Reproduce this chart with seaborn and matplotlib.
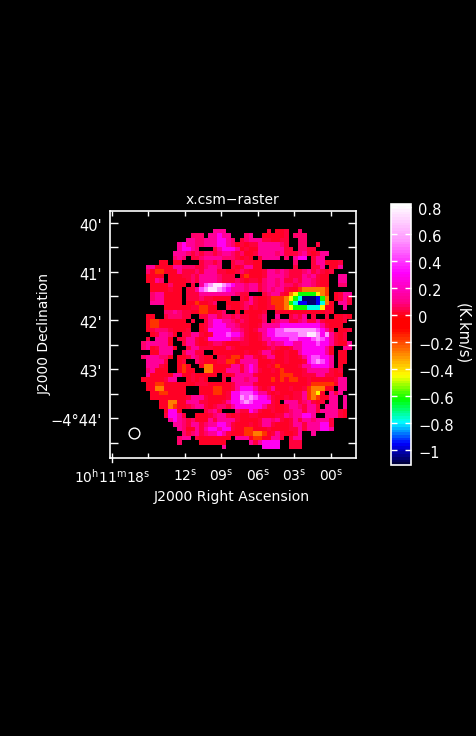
import numpy as np
import pandas as pd
import matplotlib
matplotlib.use('Agg')
import matplotlib.pyplot as plt
from matplotlib.colors import LinearSegmentedColormap
from matplotlib.patches import Circle
from matplotlib.transforms import ScaledTranslation
import seaborn as sns

# moment map values, one letter per cell, '.' is blank (left half / right half of the map)
rows_left = [
    "................qqq.....",
    "...........ppp.qqmqq...p",
    "..........qqppqqqmmqp.cp",
    "........qmqqppqqqmmqprcr",
    "........qmmqp...cqmmmqrc",
    ".......qqqpcpcppcpqqpcpr",
    ".......pqp.ccpqqqqpppcrc",
    "....rr.rr....cppcp..cppc",
    ".qqrrrrqqpppccpqqp..crcq",
    ".preerrrqcccpcqqqccrrcpc",
    ".rrrr.rrrccpcqqqqpccc.re",
    ".rrqp.rrrrcpcqqqqpcccpcr",
    "..rrrrprrr.c.qnlwwlnmqqp",
    "..rrrrcrr.ccqnlwwlnmqqqp",
    "..pqqrrrr.cccqqqqqqqqpcc",
    "..pqqrrrr.cccpccrrrr..cr",
    "..qqqrrrr.rrerrcp..rrrcp",
    ".....rrrrrrcceerr..crrcp",
    ".....ppqpccrreerrcp..r.r",
    ".rr..cpppcc..ccqqcppcpcc",
    ".reerrrrrr.c..cqmmqqpcpc",
    ".reerrrrrrr..rcqmmmqqpcc",
    ".rcpppcrrrc..rcmmmmmqqpc",
    "..rcqqpr.ccqqcrcmmmnmmqc",
    ".c.qqqr.ccqqcrcmmmmmqqpc",
    "pqqqqqr..cqqcrrcppcrrrcc",
    "pqrcqqqr..cqqcccrrrpcrrr",
    "..rrqqq..cqqcc..rrrrrrrc",
    "pqqqppr.rrcqpcrr.ccreerq",
    ".qqqqc..rc..pcrrrcceerqq",
    ".qqqcr..rer..roorrrrqqcq",
    ".pqrrr..rerr..oorrrqqqcq",
    ".qrrrrrqqrrcrrrrr.crcqqq",
    "rrrrrcqq..rcrcr...c.qqqp",
    ".rreerrrrrrrcccrrrrrcqqq",
    ".rroorrrrr...rrreerrcqmm",
    "..rreerrrr...rrreercmmnn",
    "..rrrrrrrrcqqqcrrrrcmmln",
    "....rroorrqqqccrrrcqmmnl",
    "....rroerrcpqqcrcppcqmmm",
    ".....rmmr.....cpqc...pcc",
    ".....cmmqc..rrrcpqqcrcrr",
    "......qmqpcprrrqcqqqqcrr",
    ".......qqpcqqcpqqmmqcrrr",
    "........qprrqcqmmqmmcrre",
    ".........pcpqcpqqmqcrrre",
    "........pqq.crrrrrrr.qqq",
    "........p....rrrrrr.....",
    "..................q.....",
]
rows_right = [
    "....c.rrc..p...........",
    "q..rrrrrc.ppp..........",
    "qqqccrrcc..pp..........",
    "ccqqqqqpc..pp..c.......",
    "rrqqqqqqcc.ppcc........",
    "rcqqqqpqcccpqcrcqq.....",
    "r.cqqqq.p.qmm.cqq......",
    "crr.......p...cqqrrrc..",
    "qrr.......c...ccq.rrq..",
    "rrrcqqpqpcccpqcpcrc....",
    "rrrcqqqqpcccqpqcrr..qq.",
    "ccrpqqpqccpcqqpcrr..qq.",
    "qqcpqqpqppcpqqpcrr..pp.",
    "qqcpqpqqcrreoooooe.....",
    "...cpqqcroyggggyoe.rcqq",
    "qcrrceeeoygtkkkbgo.rcqc",
    "qcrrceeeogtbbkkbtor.qqc",
    "rcrrcceeoygggtttyrr..q.",
    "rrrc..crrrrrrrrrrcr....",
    "rrcp..q..cpcq.c..c.rrcr",
    "rrrp.cpqqccpqccqcrrrrc.",
    "rrcqqqqmmmmmmmmmqcrrr..",
    "rcqqmmnnlllllllnmqc.rrc",
    "rrcqmmnnnnnllwwlmlqcrc.",
    "rrcqqmmmmnnmmmnlnmqcrc.",
    "rrrcqpqqmmqqmmmnmmqcrrq",
    "rrrrcpcrrcqqmmmmmqr..qq",
    "rrcqqcrrcrrqmmmmmqr.rr.",
    "qcrcqqrrcrrcqmnnmmq.rr.",
    "qqrrrcrrcrrrcmnlnmq.rr.",
    "mqrrcrerrrrcqqmmmmq.r..",
    "mqcrrcrerrrrcqqqqqcrc..",
    "qcrrrrreeerrcccqqccrr..",
    "qqrrrerereerrcrrrrrcqq.",
    "qcrrrrrrrrrrrceeeeerqq.",
    "mqcrcqrrrcrrceooorr.qq.",
    "nmqqcrcrrrccqeoyr.qcq..",
    "lnmmqcrrcrccqeoerrqq.q.",
    "nmmmmcr.qqqcpqcrc.qq.q.",
    "mmmqccrrcqqpcqqc.qqq.q.",
    "mqcrrcrrcpqqcqqcqqqqcr.",
    "ccrrrrccqpqqmmq..qqqcr.",
    "rrcqqpqcrcqcqqpqqqc....",
    "crcqqcrrrcqqcqqqmmc....",
    "errrcrrrrccqcqqqmmq....",
    "eooercqcrrcq..q........",
    "reerrqqc.cqq...........",
    "qcqmmmm..ccc...........",
    "...mmmm..ccc...........",
]
level_codes = list("kbtgyoercpqmnlw")
level_values = [-1.05, -0.95, -0.78, -0.62, -0.43, -0.28, -0.18, 0.0, 0.03, 0.07, 0.13, 0.3, 0.43, 0.56, 0.76]

# axis text
ra_labels = ['10$^{h}$11$^{m}$18$^{s}$', '', '12$^{s}$', '09$^{s}$', '06$^{s}$', '03$^{s}$', '00$^{s}$']
dec_labels = ["40'", '', "41'", '', "42'", '', "43'", '', "\u22124\u00b044'", '']
cbar_values = [0.8, 0.6, 0.4, 0.2, 0, -0.2, -0.4, -0.6, -0.8, -1]
cbar_labels = ['0.8', '0.6', '0.4', '0.2', '0', '\u22120.2', '\u22120.4', '\u22120.6', '\u22120.8', '\u22121']

vmin, vmax = -1.11, 0.827
W, H = 476, 736

plt.rcParams['font.family'] = 'DejaVu Sans'
plt.rcParams['mathtext.default'] = 'regular'
plt.rcParams['axes.linewidth'] = 1.2

# rainbow lookup, taken off the colour wedge
stops = [(-1.11, '#00003c'), (-0.96, '#0000ff'), (-0.8, '#00ffff'), (-0.63, '#00ff00'), (-0.45, '#ffff00'),
         (-0.28, '#ff8000'), (-0.1, '#ff0000'), (-0.02, '#ff0000'), (0.09, '#ff0080'), (0.32, '#ff00ff'),
         (0.56, '#ff96ff'), (0.827, '#ffffff')]
cmap = LinearSegmentedColormap.from_list('wedge', [((v - vmin) / (vmax - vmin), c) for v, c in stops], N=96)

lookup = dict(zip(level_codes, level_values))
grid = [[lookup.get(ch, np.nan) for ch in (a + b)] for a, b in zip(rows_left, rows_right)]
grid = np.pad(np.array(grid), ((4, 2), (7, 1)), constant_values=np.nan)
df = pd.DataFrame(grid)

fig = plt.figure(figsize=(W / 100, H / 100), dpi=100, facecolor='black')


def box(x0, y0, x1, y1):
    return [x0 / W, 1 - y1 / H, (x1 - x0) / W, (y1 - y0) / H]


ax = fig.add_axes(box(110, 211, 356, 458), facecolor='black')
cax = fig.add_axes(box(391, 203.5, 411.5, 465), facecolor='black')
sns.heatmap(df, ax=ax, cbar_ax=cax, cmap=cmap, vmin=vmin, vmax=vmax, square=False,
            xticklabels=False, yticklabels=False)

cell_x = 246 / grid.shape[1]
cell_y = 247 / grid.shape[0]

ra_px = [112.3, 148.3, 185.3, 221.3, 258.3, 294.3, 331.3]
dec_px = [223.3, 247.3, 272, 296, 320, 345.3, 369.3, 394, 418, 442.7]

ax.set_xticks([(p - 110) / cell_x for p in ra_px])
ax.set_xticklabels(ra_labels, color='white', fontsize=10)
ax.set_yticks([(p - 211) / cell_y for p in dec_px])
ax.set_yticklabels(dec_labels, color='white', fontsize=10.5)
ax.tick_params(axis='x', direction='in', length=3.6, width=1, color='white', top=True, bottom=True, pad=7)
ax.tick_params(axis='y', direction='in', length=5.8, width=1, color='white', left=True, right=True, pad=6)
ax.plot([(112.3 - 110) / cell_x] * 2, [grid.shape[0], grid.shape[0] + 0.9], color='white', lw=1, clip_on=False)
for s in ax.spines.values():
    s.set_visible(True)
    s.set_color('white')

# tick text sits a little under its tick in the reference
nudge = ScaledTranslation(0, -2 / 100, fig.dpi_scale_trans)
for t in ax.get_yticklabels():
    t.set_transform(t.get_transform() + nudge)

# beam
ax.add_patch(Circle(((134.5 - 110) / cell_x, (433.5 - 211) / cell_y), 1.2, fill=False, ec='white', lw=1))

fig.text(232 / W, 1 - 200.5 / H, 'x.csm\u2212raster', color='white', fontsize=10, ha='center', va='center')
fig.text(232 / W, 1 - 497.5 / H, 'J2000 Right Ascension', color='white', fontsize=10.1, ha='center', va='center')
fig.text(45 / W, 1 - 334 / H, 'J2000 Declination', color='white', fontsize=10, rotation=90, ha='center', va='center')
fig.text(463 / W, 1 - 334 / H, '(K.km/s)', color='white', fontsize=10.5, rotation=270, ha='center', va='center')

cbar = ax.collections[0].colorbar
cbar.set_ticks(cbar_values)
cbar.set_ticklabels(cbar_labels, color='white', fontsize=10.5)
cax.tick_params(axis='y', direction='in', length=4.2, width=1, color='white', left=True, right=True, pad=5)
for t in cax.get_yticklabels():
    t.set_transform(t.get_transform() + nudge)
cbar.outline.set_visible(True)
cbar.outline.set_edgecolor('white')
cbar.outline.set_linewidth(1.2)

fig.savefig('out.png', dpi=100, facecolor='black')
